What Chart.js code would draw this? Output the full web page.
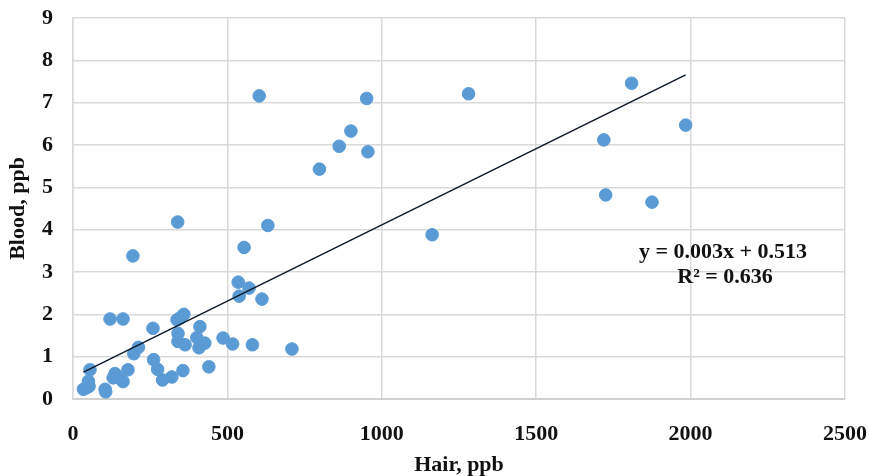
<!DOCTYPE html>
<html>
<head>
<meta charset="utf-8">
<script src="https://cdn.jsdelivr.net/npm/chart.js@4.4.1/dist/chart.umd.min.js"></script>
<style>
html,body{margin:0;padding:0;background:#fff;}
#wrap{width:869px;height:476px;position:relative;}
</style>
</head>
<body>
<div id="wrap"><canvas id="c" width="869" height="476"></canvas></div>
<script>
const hair = [603,951,1281,1809,1984,1719,900,862,955,798,1725,1875,339,631,1163,554,194,535,570,538,612,359,337,348,120,162,259,411,340,340,363,401,427,408,486,517,581,709,212,197,261,274,290,320,356,440,55,50,52,34,45,104,106,136,146,130,162,178,158];
const blood = [7.16,7.10,7.21,7.46,6.47,6.12,6.33,5.97,5.84,5.43,4.82,4.65,4.18,4.10,3.88,3.58,3.38,2.76,2.62,2.43,2.36,2.00,1.87,1.92,1.89,1.89,1.67,1.71,1.55,1.36,1.28,1.45,1.32,1.21,1.44,1.30,1.28,1.18,1.22,1.07,0.93,0.70,0.45,0.52,0.67,0.76,0.69,0.42,0.30,0.23,0.27,0.23,0.17,0.60,0.52,0.50,0.41,0.69,0.45];
const trendSlope = 0.0036;
const trendIntercept = 0.513;
const equationLines = ['y = 0.003x + 0.513', 'R\u00B2 = 0.636'];
const xTitle = 'Hair, ppb';
const yTitle = 'Blood, ppb';

const points = hair.map((h,i)=>({x:h,y:blood[i]}));
const xMin = Math.min(...hair), xMax = Math.max(...hair);
const trend = [xMin,xMax].map(x=>({x:x,y:trendIntercept+trendSlope*x}));

const FONT = '"Liberation Serif","Times New Roman",serif';

const eqPlugin = {
  id:'eq',
  afterDatasetsDraw(chart){
    const ctx = chart.ctx;
    ctx.save();
    ctx.font = 'bold 22px ' + FONT;
    ctx.fillStyle = '#111';
    ctx.textAlign = 'center';
    ctx.textBaseline = 'middle';
    ctx.fillText(equationLines[0], 723, 252);
    ctx.fillText(equationLines[1], 725, 277);
    ctx.restore();
  }
};

new Chart(document.getElementById('c'), {
  type:'scatter',
  data:{datasets:[
    {type:'line', data:trend, borderColor:'#0d1a2a', borderWidth:1.5, pointRadius:0, fill:false, order:0},
    {data:points, backgroundColor:'#5b9bd5', borderColor:'#5b9bd5', pointRadius:6.3, pointHoverRadius:6.3, order:1}
  ]},
  options:{
    responsive:false, animation:false,
    layout:{padding:{left:0,right:24,top:18,bottom:0}},
    plugins:{legend:{display:false}, tooltip:{enabled:false}},
    scales:{
      x:{type:'linear', min:0, max:2500,
        ticks:{stepSize:500, color:'#111', font:{family:FONT, size:22, weight:'bold'}, padding:22, maxRotation:0, callback:v=>String(v)},
        grid:{color:'#d9d9d9', lineWidth:1.5, drawTicks:false},
        border:{color:'#d0d0d0', width:2},
        title:{display:true, text:xTitle, color:'#111', font:{family:FONT, size:22, weight:'bold', lineHeight:1}, padding:{top:0,bottom:0}},
        afterFit(s){ s.height = 77; s.paddingLeft = 0; s.paddingRight = 0; }
      },
      y:{type:'linear', min:0, max:9,
        ticks:{stepSize:1, color:'#111', font:{family:FONT, size:22, weight:'bold'}, padding:20},
        grid:{color:'#d9d9d9', lineWidth:1.5, drawTicks:false},
        border:{color:'#d9d9d9', width:1.5},
        title:{display:true, text:yTitle, color:'#111', font:{family:FONT, size:22, weight:'bold', lineHeight:1}, padding:{top:7,bottom:0}},
        afterFit(s){ s.width = 73; s.paddingTop = 0; s.paddingBottom = 0; }
      }
    }
  },
  plugins:[eqPlugin]
});
</script>
</body>
</html>
